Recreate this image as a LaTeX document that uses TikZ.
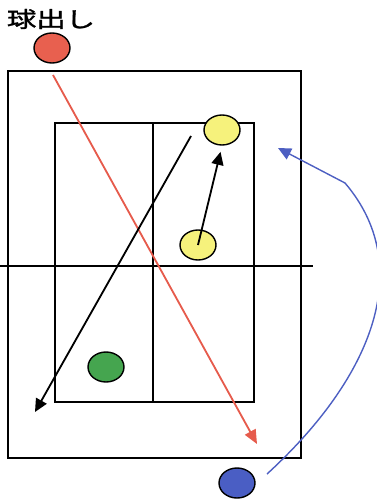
\documentclass[tikz,border=0pt]{standalone}
\usepackage{fontspec}
\newfontfamily\jpfont[FakeBold=1.2]{Noto Sans CJK JP}
\usepackage{xcolor}
\usetikzlibrary{shapes.geometric, arrows.meta}
\definecolor{ballred}{HTML}{E8604F}
\definecolor{ballyellow}{HTML}{F6F27C}
\definecolor{ballgreen}{HTML}{45A54F}
\definecolor{ballblue}{HTML}{4A5EC4}
\definecolor{linered}{HTML}{E65B4C}
\definecolor{lineblue}{HTML}{4D5FC2}
\tikzset{
  court/.style    = {draw, line width=2.6pt},
  ball/.style     = {ellipse, draw, line width=2pt, minimum width=18mm,
                     minimum height=15mm, inner sep=0pt},
  arrow/.style    = {line width=2.6pt, -{Triangle[length=6.5mm, width=6mm]}},
  redarrow/.style = {arrow, draw=linered, -{Triangle[length=7mm, width=6mm, fill=linered]}},
  bluearrow/.style= {line width=2pt, draw=lineblue, -{Triangle[length=6.5mm, width=6mm, fill=lineblue]}},
}

\begin{document}
\begin{tikzpicture}[x=0.5mm, y=-0.5mm]
    \useasboundingbox (0,0) rectangle (376,500);

    %% Court
    \draw[court] (8,71) rectangle (301,458);
    \draw[court] (55,123) rectangle (254,402);
    \draw[court] (153,123) -- (153,402);
    \draw[court] (0,266) -- (313,266);

    %% Label
    \node[font=\jpfont\fontsize{31}{33}\selectfont, xscale=1.35, transform shape]
      (feed) at (51,19) {球出し};

    %% Players
    \node[ball, fill=ballred]    (server) at (52,48)  {};
    \node[ball, fill=ballyellow] (ytop)   at (222,130) {};
    \node[ball, fill=ballyellow] (ylow)   at (198,245) {};
    \node[ball, fill=ballgreen]  (green)  at (106,367) {};
    \node[ball, fill=ballblue]   (blue)   at (237,483) {};

    %% Ball paths
    \coordinate (redstart) at (53,75);
    \coordinate (redend)   at (257,444);
    \draw[redarrow] (redstart) -- (redend);

    \coordinate (longstart) at (191,136);
    \coordinate (longend)   at (35,412);
    \draw[arrow] (longstart) -- (longend);

    \draw[arrow, shorten >=9pt] (ylow.center) -- (ytop.south);

    %% Rotation
    \coordinate (rotstart) at (267,474);
    \coordinate (rotbend)  at (345,183);
    \coordinate (rotend)   at (278,148);
    \draw[bluearrow] (rotstart) .. controls (375,375) and (415,265) .. (rotbend) -- (rotend);

\end{tikzpicture}
\end{document}
